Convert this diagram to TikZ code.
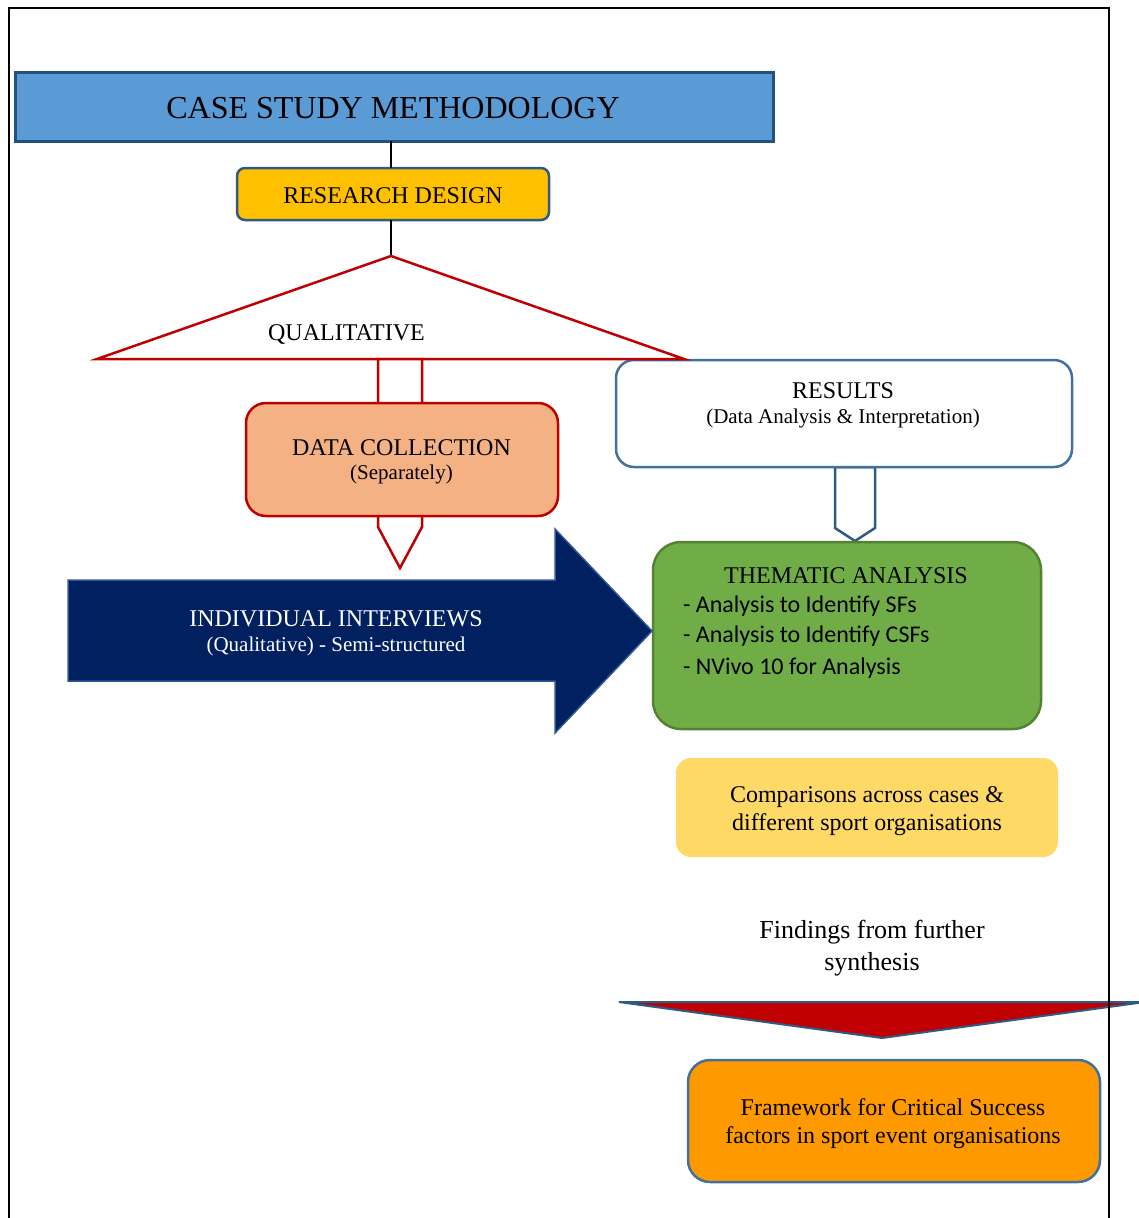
\documentclass[tikz,border=0pt]{standalone}
\usepackage{fontspec}
\setmainfont{Liberation Serif}
\newfontfamily\calib{Carlito}
\definecolor{titlefill}{HTML}{5B9BD5}
\definecolor{titledraw}{HTML}{24507D}
\definecolor{rdfill}{HTML}{FFC000}
\definecolor{bluedraw}{HTML}{2E5A87}
\definecolor{resdraw}{HTML}{41719C}
\definecolor{redline}{HTML}{C00000}
\definecolor{dcfill}{HTML}{F4B183}
\definecolor{themfill}{HTML}{70AD47}
\definecolor{themdraw}{HTML}{548235}
\definecolor{navy}{HTML}{002060}
\definecolor{navydraw}{HTML}{2F5597}
\definecolor{compfill}{HTML}{FFD966}
\definecolor{fwfill}{HTML}{FF9900}
\begin{document}
\begin{tikzpicture}[x=1pt,y=-1pt,line join=miter,
  boxs/.style={inner sep=0pt,outer sep=0pt},
  txt/.style={font=\fontsize{24}{28}\selectfont,anchor=base,inner sep=0pt},
  sm/.style={font=\fontsize{21}{25}\selectfont,anchor=base,inner sep=0pt},
  bul/.style={font=\calib\fontsize{24}{28}\selectfont,anchor=base west,inner sep=0pt},
  conn/.style={line width=2.5pt,black}]
\useasboundingbox (0,0) rectangle (1139,1218);

% boxes
\node[boxs,draw=titledraw,fill=titlefill,line width=3pt,minimum width=758pt,minimum height=69pt] (title) at (394,106.5) {};
\node[boxs,draw=bluedraw,fill=rdfill,line width=2.5pt,rounded corners=8pt,minimum width=312pt,minimum height=52pt] (rd) at (393,194) {};

% triangle coordinates
\coordinate (tA) at (391,256);
\coordinate (tL) at (97,359);
\coordinate (tR) at (684,359);

% connectors
\draw[conn] (tA |- title.south) -- (tA |- rd.north);
\draw[conn] (tA |- rd.south) -- (tA);

% results box and arrow
\draw[draw=bluedraw,fill=white,line width=2.5pt] (835,467) -- (875,467) -- (875,528) -- (855,541) -- (835,528) -- cycle;
\node[boxs,draw=resdraw,fill=white,line width=2.5pt,rounded corners=18pt,minimum width=456pt,minimum height=107pt] (res) at (844,413.5) {};

% triangle
\draw[redline,fill=white,line width=2.5pt] (tA) -- (tR) -- (tL) -- cycle;

% data collection arrow and box
\draw[redline,fill=white,line width=2.5pt] (378,359) -- (422,359) -- (422,527) -- (400,568) -- (378,527) -- cycle;
\node[boxs,draw=redline,fill=dcfill,line width=2.5pt,rounded corners=20pt,minimum width=312pt,minimum height=113pt] (dc) at (402,459.5) {};

% thematic box
\node[boxs,draw=themdraw,fill=themfill,line width=2.5pt,rounded corners=28pt,minimum width=388pt,minimum height=187pt] (them) at (847,635.5) {};

% navy arrow
\draw[navydraw,fill=navy,line width=1.5pt] (68,580) -- (555,580) -- (555,529) -- (652,631) -- (555,733) -- (555,681) -- (68,681) -- cycle;

% comparisons
\node[boxs,fill=compfill,rounded corners=15pt,minimum width=382pt,minimum height=99pt] (comp) at (867,807.5) {};

% red chevron
\draw[bluedraw,fill=redline,line width=2pt] (619,1002) -- (1145,1002) -- (882,1038) -- cycle;

% framework
\node[boxs,draw=resdraw,fill=fwfill,line width=2.5pt,rounded corners=22pt,minimum width=412pt,minimum height=122pt] (fw) at (894,1121) {};

% texts
\node[font=\fontsize{32}{36}\selectfont,anchor=base,inner sep=0pt] (titletxt) at (393,118) {CASE STUDY METHODOLOGY};
\node[txt] (rdtxt) at (393,203) {RESEARCH DESIGN};
\node[txt] (qual) at (346.5,340) {QUALITATIVE};
\node[txt] (dc1) at (401.5,455) {DATA COLLECTION};
\node[sm] (dc2) at (401.5,479) {(Separately)};
\node[txt] (res1) at (843,398) {RESULTS};
\node[sm] (res2) at (843,423) {(Data Analysis \& Interpretation)};
\node[txt] (th1) at (846,583) {THEMATIC ANALYSIS};
\node[bul] (b1) at (683,612) {- Analysis to Identify SFs};
\node[bul] (b2) at (683,642) {- Analysis to Identify CSFs};
\node[bul] (b3) at (683,674) {- NVivo 10 for Analysis};
\node[txt,text=white] (ii1) at (336,626) {INDIVIDUAL INTERVIEWS};
\node[sm,text=white] (ii2) at (336,651) {(Qualitative) - Semi-structured};
\node[txt] (c1) at (867,802) {Comparisons across cases \&};
\node[txt] (c2) at (867,830) {different sport organisations};
\node[font=\fontsize{26}{30}\selectfont,anchor=base,inner sep=0pt] (f1) at (872,938) {Findings from further};
\node[font=\fontsize{26}{30}\selectfont,anchor=base,inner sep=0pt] (f2) at (872,970) {synthesis};
\node[txt] (fw1) at (893,1115) {Framework for Critical Success};
\node[txt] (fw2) at (893,1143) {factors in sport event organisations};

% frame
\draw[line width=2.5pt,black,line cap=rect] (9,1220) -- (9,8) -- (1109,8) -- (1109,1220);
\end{tikzpicture}
\end{document}
